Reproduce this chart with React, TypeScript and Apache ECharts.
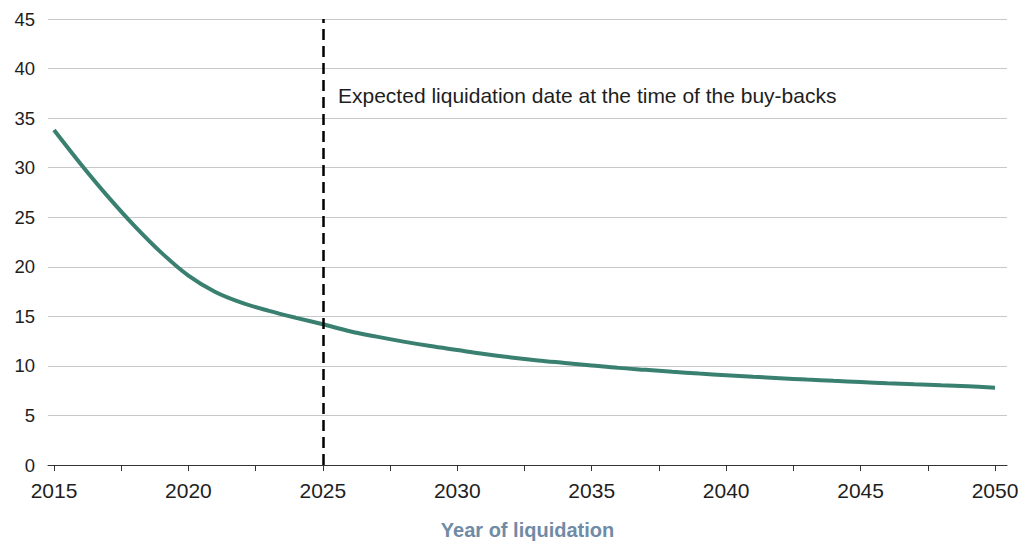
import React, { useEffect, useRef } from "react";
import * as echarts from "echarts";

// Years of liquidation and the corresponding values
const years = [
  2015, 2016, 2017, 2018, 2019, 2020, 2021, 2022, 2023, 2024, 2025, 2026, 2027,
  2028, 2029, 2030, 2031, 2032, 2033, 2034, 2035, 2036, 2037, 2038, 2039, 2040,
  2041, 2042, 2043, 2044, 2045, 2046, 2047, 2048, 2049, 2050,
];
const values = [
  33.8, 30.35, 27.1, 24.1, 21.4, 19.1, 17.45, 16.35, 15.55, 14.85, 14.2, 13.5,
  12.95, 12.45, 12.0, 11.6, 11.2, 10.85, 10.55, 10.3, 10.05, 9.8, 9.6, 9.4,
  9.22, 9.06, 8.9, 8.76, 8.62, 8.49, 8.37, 8.25, 8.14, 8.04, 7.94, 7.8,
];
const tickYears = [
  2015, 2017.5, 2020, 2022.5, 2025, 2027.5, 2030, 2032.5, 2035, 2037.5, 2040,
  2042.5, 2045, 2047.5, 2050,
];
const labelYears = [2015, 2020, 2025, 2030, 2035, 2040, 2045, 2050];
const buyBackYear = 2025;
const annotation = "Expected liquidation date at the time of the buy-backs";
const axisTitle = "Year of liquidation";

const FONT = "'Liberation Sans', Arial, Helvetica, sans-serif";

export default function App() {
  const ref = useRef<HTMLDivElement>(null);

  useEffect(() => {
    if (!ref.current) return;
    const chart = echarts.init(ref.current, null, { renderer: "svg" });
    chart.setOption({
      animation: false,
      backgroundColor: "#ffffff",
      textStyle: { fontFamily: FONT },
      grid: {
        left: 48,
        right: 24,
        top: 19,
        bottom: 76,
        containLabel: false,
        outerBoundsMode: "none",
      },
      xAxis: {
        type: "value",
        min: 2014.777,
        max: 2050.446,
        name: axisTitle,
        nameLocation: "middle",
        nameGap: 55,
        nameTextStyle: {
          color: "#6f8ba6",
          fontWeight: "bold",
          fontSize: 20,
          lineHeight: 20,
          fontFamily: FONT,
        },
        axisLine: { show: true, lineStyle: { color: "#333333", width: 1 } },
        axisTick: {
          show: true,
          length: 6,
          customValues: tickYears,
          lineStyle: { color: "#333333", width: 1 },
        },
        axisLabel: {
          customValues: labelYears,
          color: "#1e1e1e",
          fontSize: 21,
          margin: 15,
          fontFamily: FONT,
          formatter: (v: number) => String(v),
        },
        splitLine: { show: false },
      },
      yAxis: {
        type: "value",
        min: 0,
        max: 45,
        interval: 5,
        axisLine: { show: false },
        axisTick: { show: false },
        axisLabel: {
          color: "#1e1e1e",
          fontSize: 18.5,
          margin: 13,
          fontFamily: FONT,
        },
        splitLine: { lineStyle: { color: "#c8c8c8", width: 1 } },
      },
      series: [
        {
          type: "line",
          data: years.map((y, i) => [y, values[i]]),
          smooth: 0.35,
          showSymbol: false,
          lineStyle: { color: "#3a8070", width: 4 },
          z: 3,
          markLine: {
            silent: true,
            symbol: "none",
            label: { show: false },
            lineStyle: { color: "#000000", width: 2.5, type: [11, 6] },
            data: [{ xAxis: buyBackYear }],
            z: 4,
          },
        },
      ],
      graphic: [
        {
          type: "text",
          left: 338,
          top: 85,
          style: {
            text: annotation,
            fill: "#1e1e1e",
            fontSize: 21,
            fontFamily: FONT,
          },
        },
      ],
    });
    return () => chart.dispose();
  }, []);

  return (
    <div
      ref={ref}
      style={{ position: "fixed", left: 0, top: 0, width: 1031, height: 541 }}
    />
  );
}
